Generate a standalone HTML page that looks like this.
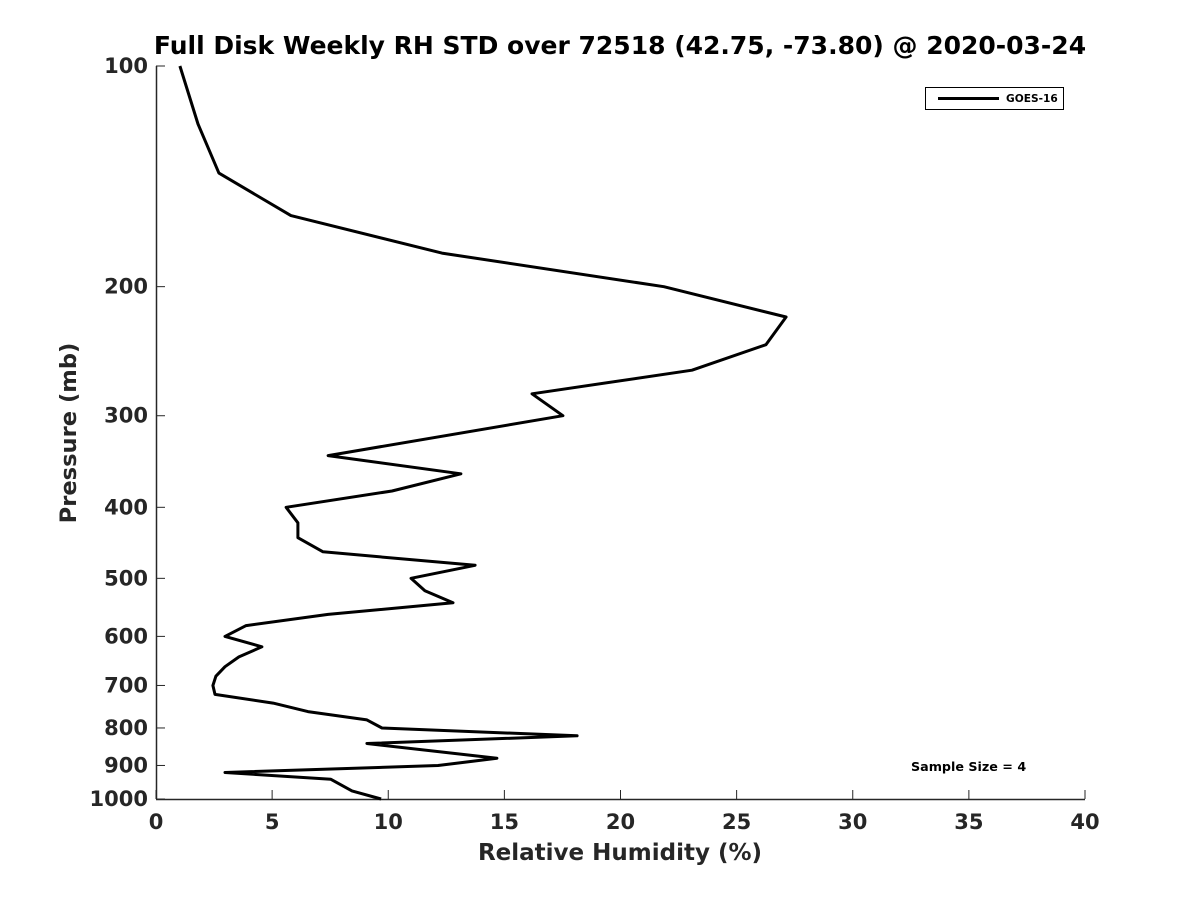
<!DOCTYPE html>
<html><head><meta charset="utf-8"><style>
body{margin:0;background:#fff;width:1200px;height:900px;overflow:hidden}
text{font-family:"DejaVu Sans","Liberation Sans",sans-serif;font-weight:bold;fill:#262626}
</style></head><body>
<svg id="chart" width="1200" height="900" xmlns="http://www.w3.org/2000/svg">
<rect width="1200" height="900" fill="#fff"/>
<text x="620" y="54" text-anchor="middle" font-size="25" style="fill:#000">Full Disk Weekly RH STD over 72518 (42.75, -73.80) @ 2020-03-24</text>
<g id="axes"></g>
<path id="series" fill="none" stroke="#000" stroke-width="3" stroke-linejoin="round"/>
<g>
<rect x="925.5" y="87.5" width="138" height="22" fill="#fff" stroke="#000" stroke-width="1"/>
<line x1="938" y1="98.5" x2="999" y2="98.5" stroke="#000" stroke-width="3"/>
<text x="1006" y="102" font-size="10.6" style="fill:#000">GOES-16</text>
</g>
<text x="911" y="771" font-size="12.7" style="fill:#000">Sample Size = 4</text>
<text x="620" y="860" text-anchor="middle" font-size="23">Relative Humidity (%)</text>
<text transform="translate(76,433) rotate(-90)" text-anchor="middle" font-size="22.6">Pressure (mb)</text>
</svg>
<script>
const pressure=[100,120,140,160,180,200,220,240,260,280,300,340,360,380,400,420,440,460,480,500,520,540,560,580,600,620,640,660,680,700,720,740,760,780,800,820,840,880,900,920,940,975,1000];
const rhStd=[1.03,1.81,2.71,5.81,12.31,21.87,27.13,26.26,23.08,16.19,17.52,7.41,13.13,10.16,5.60,6.11,6.11,7.19,13.74,10.98,11.58,12.79,7.41,3.88,2.97,4.56,3.57,2.97,2.58,2.45,2.54,5.04,6.54,9.08,9.73,18.13,9.08,14.68,12.14,2.97,7.53,8.44,9.69];
const xTicks=[0,5,10,15,20,25,30,35,40];
const yTicks=[100,200,300,400,500,600,700,800,900,1000];
const L=156,R=1085,T=66,B=799;
const xs=v=>L+(v/40)*(R-L);
const ys=p=>T+Math.log10(p/100)*(B-T);
const ns="http://www.w3.org/2000/svg";
const ax=document.getElementById('axes');
function mk(tag,attrs,txt){const e=document.createElementNS(ns,tag);for(const k in attrs)e.setAttribute(k,attrs[k]);if(txt!==undefined)e.textContent=txt;ax.appendChild(e);return e;}
let e=mk('line',{x1:L,y1:B+0.5,x2:R,y2:B+0.5,stroke:'#262626','stroke-width':1.5});


e=mk('line',{x1:L+0.5,y1:T,x2:L+0.5,y2:B,stroke:'#262626','stroke-width':1.5});


xTicks.forEach(v=>{const x=xs(v);
 mk('line',{x1:x,y1:B,x2:x,y2:B-9,stroke:'#262626','stroke-width':1});
 const t=mk('text',{x:x,y:B+30,'text-anchor':'middle','font-size':21},String(v));
 
 });
yTicks.forEach(p=>{const y=ys(p);
 mk('line',{x1:L,y1:y,x2:L+9,y2:y,stroke:'#262626','stroke-width':1});
 const t=mk('text',{x:L-8,y:y+7,'text-anchor':'end','font-size':21},String(p));
 
 });
document.getElementById('series').setAttribute('d',pressure.map((p,i)=>(i?'L':'M')+xs(rhStd[i]).toFixed(1)+','+ys(p).toFixed(1)).join(''));
</script>
</body></html>
